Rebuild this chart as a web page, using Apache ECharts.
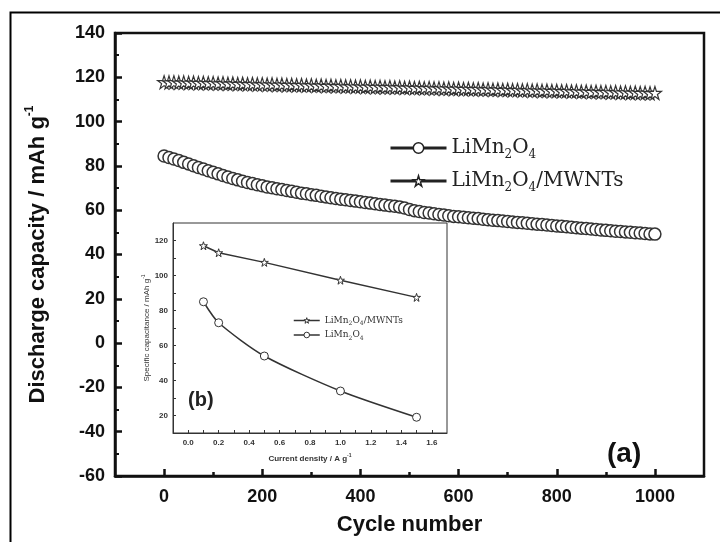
<!DOCTYPE html>
<html>
<head>
<meta charset="utf-8">
<script src="https://cdn.jsdelivr.net/npm/echarts@6/dist/echarts.min.js"></script>
<style>html,body{margin:0;padding:0;background:#fff}#c{width:720px;height:542px}</style>
</head>
<body>
<div id="c"></div>
<script>
// ---- main chart data (cycle test) ----
var cycles = [0,10,20,30,40,50,60,70,80,90,100,110,120,130,140,150,160,170,180,190,200,210,220,230,240,250,260,270,280,290,300,310,320,330,340,350,360,370,380,390,400,410,420,430,440,450,460,470,480,490,500,510,520,530,540,550,560,570,580,590,600,610,620,630,640,650,660,670,680,690,700,710,720,730,740,750,760,770,780,790,800,810,820,830,840,850,860,870,880,890,900,910,920,930,940,950,960,970,980,990,1000];
var capLiMn2O4 = [84.5,83.8,83.1,82.4,81.6,80.9,80.1,79.3,78.6,77.8,
77.1,76.4,75.7,75.0,74.3,73.7,73.1,72.5,72.0,71.5,
71.0,70.5,70.1,69.7,69.3,68.9,68.5,68.1,67.7,67.4,
67.0,66.7,66.3,66.0,65.6,65.3,65.0,64.7,64.4,64.1,
63.8,63.5,63.2,62.9,62.6,62.3,62.0,61.8,61.5,61.0,
60.3,59.8,59.4,59.0,58.7,58.4,58.1,57.8,57.5,57.2,
57.0,56.8,56.6,56.4,56.2,55.9,55.7,55.5,55.3,55.1,
54.9,54.7,54.5,54.3,54.1,53.9,53.7,53.5,53.3,53.1,
52.9,52.7,52.5,52.3,52.1,51.9,51.7,51.5,51.3,51.1,
50.9,50.7,50.5,50.4,50.2,50.0,49.8,49.7,49.5,49.3,49.2];
var capMWNTs = [117.8,117.7,117.8,117.6,117.7,117.5,117.6,117.4,117.5,117.3,
117.4,117.2,117.3,117.1,117.2,117.0,117.1,116.9,117.0,116.8,
116.9,116.7,116.8,116.6,116.7,116.5,116.6,116.4,116.5,116.3,
116.4,116.2,116.3,116.1,116.2,116.0,116.1,115.9,116.0,115.8,
115.9,115.7,115.8,115.6,115.7,115.5,115.6,115.4,115.5,115.3,
115.4,115.2,115.3,115.1,115.2,115.0,115.1,114.9,115.0,114.8,
114.9,114.7,114.8,114.6,114.7,114.5,114.6,114.4,114.5,114.3,
114.4,114.2,114.3,114.1,114.2,114.0,114.1,113.9,114.0,113.8,
113.9,113.7,113.8,113.6,113.7,113.5,113.6,113.4,113.5,113.3,
113.4,113.2,113.3,113.1,113.2,113.0,113.1,112.9,113.0,112.8,112.9];
var mainXLabels = [0,200,400,600,800,1000];
var mainXMinor = [100,300,500,700,900];

// ---- inset data (rate test) ----
var currentDensity = [0.1,0.2,0.5,1.0,1.5];
var rateMWNTs = [117,113,107.5,97.3,87.5];
var rateLiMn2O4 = [85,73,54,34,19];
var insetXLabels = [0,0.2,0.4,0.6,0.8,1.0,1.2,1.4,1.6];
var insetXTicks = [0,0.1,0.2,0.3,0.4,0.5,0.6,0.7,0.8,0.9,1.0,1.1,1.2,1.3,1.4,1.5,1.6];
var insetYLabels = [20,40,60,80,100,120];
var insetYTicks = [20,30,40,50,60,70,80,90,100,110,120];

var STAR = 'path://M50,2 L61,36 L97,36 L68,57 L79,92 L50,71 L21,92 L32,57 L3,36 L39,36 Z';
var FONT = 'Liberation Sans, Arial, sans-serif';
var SERIF = 'DejaVu Serif, Liberation Serif, serif';

var legendNames = {
  'LiMn2O4': '{n|LiMn}{s|2}{n|O}{s|4}',
  'LiMn2O4/MWNTs': '{n|LiMn}{s|2}{n|O}{s|4}{n|/MWNTs}',
  'LiMn2O4 (rate)': '{n|LiMn}{s|2}{n|O}{s|4}',
  'LiMn2O4/MWNTs (rate)': '{n|LiMn}{s|2}{n|O}{s|4}{n|/MWNTs}'
};

function pair(xs, ys){ return xs.map(function(x,i){ return [x, ys[i]]; }); }

var chart = echarts.init(document.getElementById('c'), null, {renderer:'canvas'});
var option = {
  backgroundColor: '#fff',
  animation: false,
  grid: [
    {left:115, right:16, top:33, bottom:66, show:true, borderColor:'#111', borderWidth:2.5, backgroundColor:'transparent'},
    {left:173, top:223, width:274, height:210, show:true, borderColor:'#333', borderWidth:1, backgroundColor:'#fff', z:10}
  ],
  xAxis: [
    {gridIndex:0, type:'value', min:-100, max:1100,
     axisLine:{onZero:false, lineStyle:{color:'#111', width:2.5}},
     axisTick:{inside:true, length:7, lineStyle:{width:2.5, color:'#111'}, customValues: mainXLabels},
     axisLabel:{customValues: mainXLabels, formatter:function(v){return String(v);}, fontFamily:FONT, fontWeight:'bold', fontSize:18, color:'#111', margin:12},
     splitLine:{show:false},
     name:'Cycle number', nameLocation:'middle', nameGap:38,
     nameTextStyle:{fontFamily:FONT, fontWeight:'bold', fontSize:22, color:'#111'}},
    {gridIndex:0, type:'value', min:-100, max:1100, position:'bottom',
     axisLine:{show:false, onZero:false},
     axisTick:{inside:true, length:4, lineStyle:{width:2.5, color:'#111'}, customValues: mainXMinor},
     axisLabel:{show:false}, splitLine:{show:false}},
    {gridIndex:1, type:'value', min:-0.1, max:1.7, z:11,
     axisLine:{onZero:false, lineStyle:{color:'#333', width:1}},
     axisTick:{inside:true, length:3, lineStyle:{color:'#333'}, customValues: insetXTicks},
     axisLabel:{customValues: insetXLabels, formatter:function(v){return v.toFixed(1);}, fontFamily:FONT, fontWeight:'bold', fontSize:8, color:'#333', margin:6},
     splitLine:{show:false},
     name:'Current density / A g{sup|-1}', nameLocation:'middle', nameGap:20,
     nameTextStyle:{fontFamily:FONT, fontWeight:'bold', fontSize:8, color:'#333', rich:{sup:{fontSize:5, padding:[0,0,6,0], fontWeight:'bold'}}}}
  ],
  yAxis: [
    {gridIndex:0, type:'value', min:-60, max:140, interval:20,
     axisLine:{onZero:false, lineStyle:{color:'#111', width:2.5}},
     axisTick:{inside:true, length:7, lineStyle:{width:2.5, color:'#111'}},
     minorTick:{show:true, splitNumber:2, length:4, lineStyle:{width:2, color:'#111'}},
     axisLabel:{fontFamily:FONT, fontWeight:'bold', fontSize:18, color:'#111', margin:10},
     splitLine:{show:false},
     name:'Discharge capacity / mAh g{sup|-1}', nameLocation:'middle', nameGap:63,
     nameTextStyle:{fontFamily:FONT, fontWeight:'bold', fontSize:22, color:'#111', rich:{sup:{fontFamily:FONT, fontSize:12, fontWeight:'bold', padding:[0,0,16,0]}}}},
    {gridIndex:1, type:'value', min:10, max:130, z:11,
     axisLine:{onZero:false, lineStyle:{color:'#333', width:1}},
     axisTick:{inside:true, length:3, lineStyle:{color:'#333'}, customValues: insetYTicks},
     axisLabel:{customValues: insetYLabels, fontFamily:FONT, fontWeight:'bold', fontSize:8, color:'#333', margin:5},
     splitLine:{show:false},
     name:'Specific capacitance / mAh g{sup|-1}', nameLocation:'middle', nameGap:20,
     nameTextStyle:{fontFamily:FONT, fontSize:8, color:'#333', rich:{sup:{fontSize:5, padding:[0,0,6,0]}}}}
  ],
  legend: [
    {left:384, top:133, orient:'vertical', itemGap:10, itemWidth:56, itemHeight:13,
     data:['LiMn2O4','LiMn2O4/MWNTs'],
     formatter:function(n){return legendNames[n];},
     lineStyle:{width:3, color:'#222'},
     itemStyle:{color:'#fff', borderColor:'#222', borderWidth:1.5},
     textStyle:{fontFamily:SERIF, fontSize:20, color:'#222',
       rich:{n:{fontFamily:SERIF, fontSize:20, color:'#222', verticalAlign:'middle'},
             s:{fontFamily:SERIF, fontSize:12, color:'#222', padding:[14,0,0,0], verticalAlign:'middle'}}}},
    {left:288, top:311, orient:'vertical', itemGap:4, itemWidth:26, itemHeight:7, z:12,
     data:['LiMn2O4/MWNTs (rate)','LiMn2O4 (rate)'],
     formatter:function(n){return legendNames[n];},
     lineStyle:{width:1.5, color:'#333'},
     itemStyle:{color:'#fff', borderColor:'#333', borderWidth:1},
     textStyle:{fontFamily:SERIF, fontSize:9, color:'#333',
       rich:{n:{fontFamily:SERIF, fontSize:9, color:'#333', verticalAlign:'middle'},
             s:{fontFamily:SERIF, fontSize:6, color:'#333', padding:[6,0,0,0], verticalAlign:'middle'}}}}
  ],
  series: [
    {name:'LiMn2O4/MWNTs', type:'line', xAxisIndex:0, yAxisIndex:0, data:pair(cycles, capMWNTs),
     symbol:STAR, symbolSize:13, showAllSymbol:true,
     lineStyle:{width:1, color:'#444'},
     itemStyle:{color:'#fff', borderColor:'#333', borderWidth:1.2}},
    {name:'LiMn2O4', type:'line', xAxisIndex:0, yAxisIndex:0, data:pair(cycles, capLiMn2O4),
     symbol:'circle', symbolSize:12, showAllSymbol:true,
     lineStyle:{width:1, color:'#444'},
     itemStyle:{color:'#fff', borderColor:'#333', borderWidth:1.5}},
    {name:'LiMn2O4/MWNTs (rate)', type:'line', xAxisIndex:2, yAxisIndex:1, z:12, data:pair(currentDensity, rateMWNTs),
     symbol:STAR, symbolSize:8,
     lineStyle:{width:1.5, color:'#333'},
     itemStyle:{color:'#fff', borderColor:'#333', borderWidth:1}},
    {name:'LiMn2O4 (rate)', type:'line', xAxisIndex:2, yAxisIndex:1, z:12, data:pair(currentDensity, rateLiMn2O4), smooth:0.25,
     symbol:'circle', symbolSize:8,
     lineStyle:{width:1.5, color:'#333'},
     itemStyle:{color:'#fff', borderColor:'#333', borderWidth:1}}
  ],
  graphic: [
    {type:'rect', left:8, top:10, shape:{width:730, height:545}, style:{fill:'none', stroke:'#000', lineWidth:2}, silent:true},
    {type:'text', left:188, top:390, z:20, style:{text:'(b)', fontFamily:FONT, fontWeight:'bold', fontSize:20, fill:'#222'}},
    {type:'text', left:607, top:440, z:20, style:{text:'(a)', fontFamily:FONT, fontWeight:'bold', fontSize:28, fill:'#111'}}
  ]
};
chart.setOption(option);
</script>
</body>
</html>
